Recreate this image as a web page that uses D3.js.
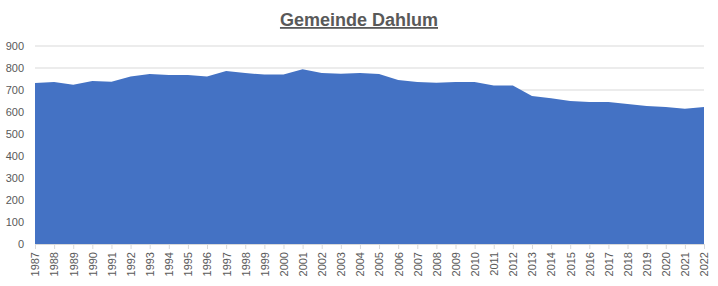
<!DOCTYPE html>
<html>
<head>
<meta charset="utf-8">
<title>Gemeinde Dahlum</title>
<script src="https://d3js.org/d3.v7.min.js"></script>
<style>
body{margin:0;background:#fff;}
.axis text{font-family:"Liberation Sans",Arial,sans-serif;font-size:11px;fill:#595959;}
</style>
</head>
<body>
<svg class="chart"></svg>
<script>
// Einwohnerzahlen
var years=[1987,1988,1989,1990,1991,1992,1993,1994,1995,1996,1997,1998,1999,2000,2001,2002,2003,2004,2005,
  2006,2007,2008,2009,2010,2011,2012,2013,2014,2015,2016,2017,2018,2019,2020,2021,2022];
var einwohner=[732,736,724,741,738,761,773,768,768,761,786,777,770,770,794,777,774,777,773,
  745,736,733,736,736,720,720,673,662,650,645,645,636,627,623,615,623];
var yTicks=[0,100,200,300,400,500,600,700,800,900];
var title='Gemeinde Dahlum';

var width=718,height=286;
var margin={top:46,right:14,bottom:42,left:35};

var svg=d3.select('.chart').attr('width',width).attr('height',height);

var x=d3.scalePoint().domain(years).range([margin.left,width-margin.right]);
var y=d3.scaleLinear().domain([0,900]).range([height-margin.bottom,margin.top]);

// gridlines
svg.append('g').selectAll('line').data(yTicks).enter().append('line')
  .attr('x1',margin.left).attr('x2',width-margin.right)
  .attr('y1',function(d){return y(d);}).attr('y2',function(d){return y(d);})
  .attr('stroke','#d9d9d9').attr('stroke-width',1);

var area=d3.area()
  .x(function(d,i){return x(years[i]);})
  .y0(y(0))
  .y1(function(d){return y(d);});

svg.append('path').datum(einwohner)
  .attr('d',area)
  .attr('fill','#4472c4');

// y axis
var yAxis=svg.append('g').attr('class','axis')
  .attr('transform','translate('+margin.left+',0)')
  .call(d3.axisLeft(y).tickValues(yTicks).tickSize(0).tickPadding(11));
yAxis.select('.domain').remove();

// x axis
var xAxis=svg.append('g').attr('class','axis')
  .attr('transform','translate(0,'+y(0)+')')
  .call(d3.axisBottom(x).tickSize(5).tickPadding(3));
xAxis.select('.domain').attr('stroke','#d9d9d9');
xAxis.selectAll('.tick line').attr('stroke','#d9d9d9');
xAxis.selectAll('text')
  .attr('transform','rotate(-90)')
  .attr('text-anchor','end')
  .attr('x',-8).attr('y',0).attr('dy','0.35em');

// title
var t=svg.append('text')
  .attr('x',359).attr('y',26)
  .attr('text-anchor','middle')
  .attr('font-family','"Liberation Sans",Arial,sans-serif')
  .attr('font-size','18px').attr('font-weight','bold')
  .attr('fill','#595959')
  .attr('text-decoration','underline')
  .text(title);
</script>
</body>
</html>
